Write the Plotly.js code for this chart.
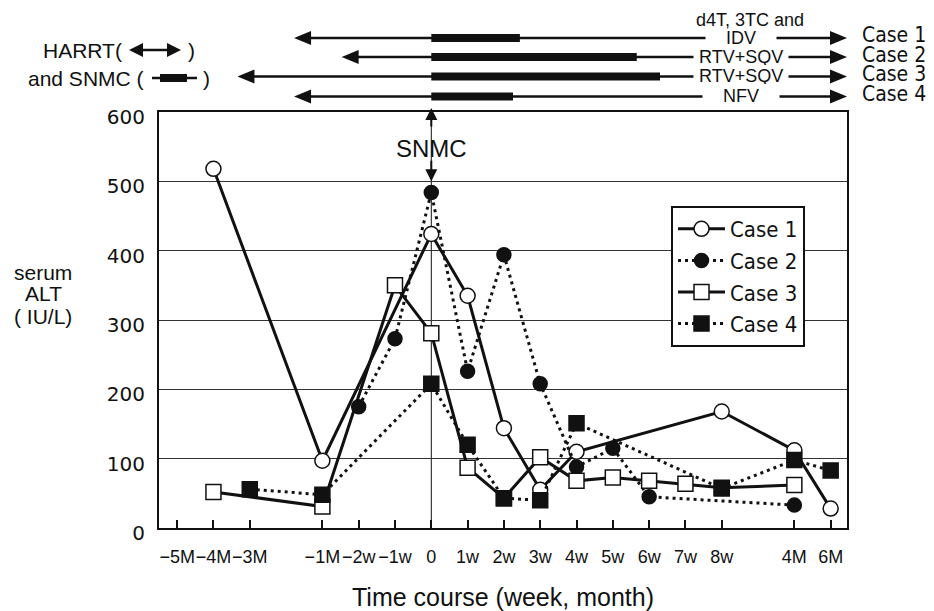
<!DOCTYPE html>
<html><head><meta charset="utf-8">
<script src="https://cdn.plot.ly/plotly-3.0.1.min.js"></script>
<style>body{margin:0;background:#fff}#chart{width:934px;height:611px}</style>
</head><body><div id="chart"></div>
<script>
// x-axis slots (empty strings are unlabeled gaps on the time axis)
const axisSlots = ['−5M','−4M','−3M','','−1M','−2w','−1w','0','1w','2w','3w','4w','5w','6w','7w','8w','','4M','6M'];
const caseNames = ['Case 1','Case 2','Case 3','Case 4'];

const case1X = ['−4M','−1M','0','1w','2w','3w','4w','8w','4M','6M'];
const case1Y = [518, 97, 424, 335, 144, 55, 110, 168, 112, 28];

const case2X = ['−2w','−1w','0','1w','2w','3w','4w','5w','6w','4M'];
const case2Y = [175, 273, 484, 226, 394, 208, 88, 115, 45, 33];

const case3X = ['−4M','−1M','−1w','0','1w','2w','3w','4w','5w','6w','7w','8w','4M'];
const case3Y = [52, 31, 350, 281, 87, 43, 102, 68, 73, 68, 64, 58, 62];

const case4X = ['−3M','−1M','0','1w','2w','3w','4w','8w','4M','6M'];
const case4Y = [56, 48, 208, 120, 43, 40, 151, 57, 98, 83];

// treatment timeline (in x-slot units): HAART start, SNMC start, SNMC end
const hartStart = [3.22, 4.53, 1.66, 3.22];
const snmcStart = [7, 7, 7, 7];
const snmcEnd = [9.44, 12.66, 13.3, 9.25];
const drugs = ['IDV', 'RTV+SQV', 'RTV+SQV', 'NFV'];

const FONT = 'Liberation Sans, Arial, Helvetica, sans-serif';
const COND = '"DejaVu Sans Condensed", "Liberation Sans Narrow", "Roboto Condensed", "DejaVu Sans Mono", sans-serif';
const INK = '#111';

const pos = l => axisSlots.indexOf(l);
const tickVals = [], tickText = [];
axisSlots.forEach((s, i) => { if (s) { tickVals.push(i); tickText.push(s); } });

const XR = [-0.5, 18.45];
const W = 934, H = 611, ML = 159, MR = 87, MT = 112, MB = 83;
const PW = W - ML - MR, PH = H - MT - MB;
const xp = i => (i - XR[0]) / (XR[1] - XR[0]);        // slot -> paper
const pxp = px => (px - ML) / PW;                       // pixel x -> paper
const pyp = py => (H - MB - py) / PH;                   // pixel y -> paper

const styles = [
  {dash: 'solid', sym: 'circle', fill: 'white', size: 15},
  {dash: '3px,4px', sym: 'circle', fill: INK, size: 14},
  {dash: 'solid', sym: 'square', fill: 'white', size: 15},
  {dash: '3px,4px', sym: 'square', fill: INK, size: 15}
];
const xs = [case1X, case2X, case3X, case4X];
const ys = [case1Y, case2Y, case3Y, case4Y];
const traces = caseNames.map((n, k) => ({
  type: 'scatter', mode: 'lines+markers', name: n,
  x: xs[k].map(pos), y: ys[k],
  line: {color: INK, width: 3, dash: styles[k].dash},
  marker: {symbol: styles[k].sym, size: styles[k].size, color: styles[k].fill, line: {color: INK, width: 1.5}},
  cliponaxis: false
}));

const shapes = [
  {type: 'line', xref: 'x', yref: 'paper', x0: pos('0'), x1: pos('0'), y0: 0, y1: 1, layer: 'below', line: {color: INK, width: 1}}
];
const annotations = [];
const rowPx = [38, 57, 76.5, 96.5];
const headL = 17 / PW, headH = 7 / PH;
const barH = 4 / PH;
const xEnd = 1.0;
function tri(tipX, tipY, dir) { // dir -1 = left-pointing, +1 = right
  const bx = tipX - dir * headL;
  return {type: 'path', xref: 'paper', yref: 'paper', fillcolor: INK, line: {width: 0},
    path: `M${tipX},${tipY} L${bx},${tipY + headH} L${bx},${tipY - headH} Z`};
}
rowPx.forEach((py, r) => {
  const y = pyp(py);
  const xl = xp(hartStart[r]);
  shapes.push({type: 'line', xref: 'paper', yref: 'paper', x0: xl + headL * 0.8, x1: xEnd - headL * 0.8, y0: y, y1: y, line: {color: INK, width: 2.5}});
  shapes.push({type: 'rect', xref: 'paper', yref: 'paper', x0: xp(snmcStart[r]), x1: xp(snmcEnd[r]), y0: y - barH, y1: y + barH, fillcolor: INK, line: {width: 0}});
  shapes.push(tri(xl, y, -1));
  shapes.push(tri(xEnd, y, 1));
  const pad = drugs[r].length < 4 ? '\u00a0\u00a0\u00a0\u00a0' : '\u00a0';
  annotations.push({xref: 'paper', yref: 'paper', x: pxp(741), y: y, text: pad + drugs[r] + pad, showarrow: false,
    bgcolor: 'white', borderpad: 0, height: 16, font: {family: FONT, size: 18, color: INK}, xanchor: 'center', yanchor: 'middle'});
  annotations.push({xref: 'paper', yref: 'paper', x: pxp(860), y: pyp(py - 2.5), text: caseNames[r], showarrow: false,
    font: {family: COND, size: 21, color: INK}, xanchor: 'left', yanchor: 'middle'});
});
annotations.push({xref: 'paper', yref: 'paper', x: pxp(750), y: pyp(19.5), text: 'd4T, 3TC and', showarrow: false,
  font: {family: FONT, size: 18, color: INK}, xanchor: 'center', yanchor: 'middle'});

// left key: HARRT (double arrow) and SNMC (bar)
annotations.push({xref: 'paper', yref: 'paper', x: pxp(124), y: pyp(50), text: 'HARRT(', showarrow: false,
  font: {family: FONT, size: 21, color: INK}, xanchor: 'right', yanchor: 'middle'});
annotations.push({xref: 'paper', yref: 'paper', x: pxp(186), y: pyp(50), text: ')', showarrow: false,
  font: {family: FONT, size: 21, color: INK}, xanchor: 'left', yanchor: 'middle'});
annotations.push({xref: 'paper', yref: 'paper', x: pxp(146), y: pyp(78), text: 'and SNMC (', showarrow: false,
  font: {family: FONT, size: 21, color: INK}, xanchor: 'right', yanchor: 'middle'});
annotations.push({xref: 'paper', yref: 'paper', x: pxp(201), y: pyp(78), text: ')', showarrow: false,
  font: {family: FONT, size: 21, color: INK}, xanchor: 'left', yanchor: 'middle'});
{
  const y = pyp(50), hl = 14 / PW, hh = 7 / PH;
  shapes.push({type: 'line', xref: 'paper', yref: 'paper', x0: pxp(135), x1: pxp(174), y0: y, y1: y, line: {color: INK, width: 2.5}});
  shapes.push({type: 'path', xref: 'paper', yref: 'paper', fillcolor: INK, line: {width: 0},
    path: `M${pxp(129)},${y} L${pxp(129) + hl},${y + hh} L${pxp(129) + hl},${y - hh} Z`});
  shapes.push({type: 'path', xref: 'paper', yref: 'paper', fillcolor: INK, line: {width: 0},
    path: `M${pxp(181)},${y} L${pxp(181) - hl},${y + hh} L${pxp(181) - hl},${y - hh} Z`});
  const y2 = pyp(78);
  shapes.push({type: 'line', xref: 'paper', yref: 'paper', x0: pxp(152), x1: pxp(197), y0: y2, y1: y2, line: {color: INK, width: 2.5}});
  shapes.push({type: 'rect', xref: 'paper', yref: 'paper', x0: pxp(160), x1: pxp(187), y0: y2 - barH, y1: y2 + barH, fillcolor: INK, line: {width: 0}});
}

// SNMC marker at day 0
annotations.push({xref: 'x', yref: 'paper', x: pos('0'), y: pyp(148), text: 'SNMC', showarrow: false,
  font: {family: FONT, size: 24, color: INK}, xanchor: 'center', yanchor: 'middle'});
annotations.push({xref: 'x', yref: 'paper', x: pos('0'), y: pyp(108), ax: 0, ay: 20, text: '', showarrow: true,
  arrowhead: 2, arrowsize: 1.2, arrowwidth: 2, arrowcolor: INK});
annotations.push({xref: 'x', yref: 'y', x: pos('0'), y: 500, ax: 0, ay: -22, text: '', showarrow: true,
  arrowhead: 2, arrowsize: 1.2, arrowwidth: 2, arrowcolor: INK});

// y-axis label
[['serum', 272], ['ALT', 293], ['( IU/L)', 316]].forEach(([t, py]) => {
  annotations.push({xref: 'paper', yref: 'paper', x: pxp(43), y: pyp(py), text: t, showarrow: false,
    font: {family: FONT, size: 21, color: INK}, xanchor: 'center', yanchor: 'middle'});
});

const layout = {
  width: W, height: H,
  margin: {l: ML, r: MR, t: MT, b: MB},
  paper_bgcolor: 'white', plot_bgcolor: 'white',
  font: {family: FONT, color: INK},
  showlegend: true,
  legend: {x: pxp(671), y: pyp(206), xanchor: 'left', yanchor: 'top', bgcolor: 'white',
    bordercolor: INK, borderwidth: 2, font: {family: COND, size: 22, color: INK}, tracegroupgap: 0,
    itemwidth: 47},
  xaxis: {
    range: XR, tickvals: tickVals, ticktext: tickText, tickangle: 0,
    ticks: 'inside', ticklen: 8, tickwidth: 2, tickcolor: INK,
    showline: true, linewidth: 2, linecolor: INK, mirror: true,
    showgrid: false, zeroline: false,
    tickfont: {family: FONT, size: 18, color: INK}, ticklabelstandoff: 11,
    title: {text: 'Time course (week, month)', font: {family: FONT, size: 25, color: INK}, standoff: 25}
  },
  yaxis: {
    range: [0, 600], tickvals: [0, 100, 200, 300, 400, 500, 600],
    showgrid: true, gridcolor: '#333', gridwidth: 1,
    showline: true, linewidth: 2, linecolor: INK, mirror: true, zeroline: false,
    ticks: '', tickfont: {family: 'DejaVu Sans, sans-serif', size: 20, color: INK},
    ticklabelshift: 5, ticklabelstandoff: 8
  },
  shapes: shapes,
  annotations: annotations
};
Plotly.newPlot('chart', traces, layout, {displayModeBar: false});
</script>
</body></html>
